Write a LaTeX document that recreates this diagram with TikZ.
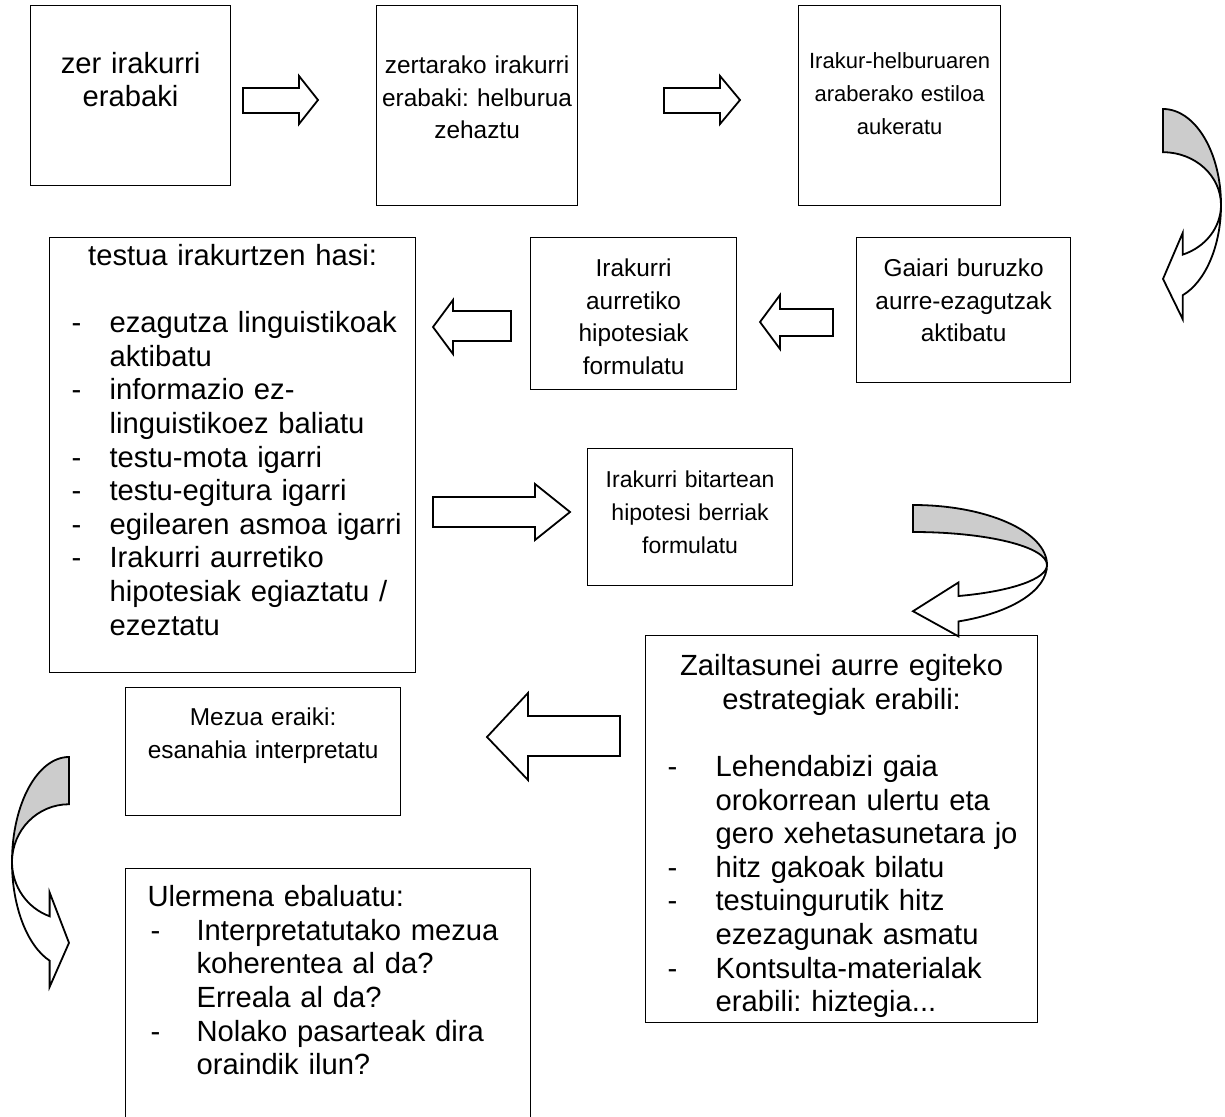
\documentclass[tikz,border=0pt]{standalone}
\usepackage{fontspec}
\setmainfont{Liberation Sans}
\frenchspacing

% one list line: dash offset, gap to text, text
\newcommand{\itemline}[3]{\makebox[\linewidth][l]{\hspace*{#1}\makebox[#2][l]{-}#3}}
\newcommand{\contline}[2]{\makebox[\linewidth][l]{\hspace*{#1}#2}}

% bent ribbon arrow: centre x, centre y, x radius, y radius
\newcommand{\bentarrow}[4]{%
  \begin{scope}[shift={(#1,#2)}, xscale=#3, yscale=#4]
    \draw[blk] (1,0) .. controls (1,0.421) and (0.736,0.797) .. (0.34,0.94)
      -- (0.34,1.19) -- (0,0.77) -- (0.34,0.29) -- (0.34,0.517)
      .. controls (0.736,0.438) and (1,0.232) .. (1,0) -- cycle;
    \draw[band] (0,-1) .. controls (0.5523,-1) and (1,-0.5523) .. (1,0)
      .. controls (1,-0.3038) and (0.5523,-0.55) .. (0,-0.55) -- cycle;
  \end{scope}}

\begin{document}
\begin{tikzpicture}[x=0.5pt, y=-0.5pt,
    box/.style={draw, line width=0.6pt, anchor=north west, inner xsep=0pt, inner ysep=0pt,
      align=center, font=\fontsize{12.2pt}{16.3pt}\selectfont},
    listbox/.style={box, font=\fontsize{14.6pt}{16.8pt}\selectfont},
    blk/.style={draw, line width=0.9pt, fill=white, line join=miter},
    band/.style={draw, line width=0.9pt, fill=black!20}
  ]
  \useasboundingbox (0,0) rectangle (1225,1117);
  \clip (0,0) rectangle (1225,1117);

  % top row
  \node[box, font=\fontsize{14.6pt}{16.3pt}\selectfont, text width=100pt, text height=34pt, text depth=56pt] (zer) at (30,5)
    {zer irakurri\\erabaki};
  \node[box, text width=100.5pt, text height=34pt, text depth=66pt] (zertarako) at (376,5)
    {zertarako irakurri\\erabaki: helburua\\zehaztu};
  \node[box, font=\fontsize{11pt}{16.5pt}\selectfont, text width=101pt, text height=31.5pt, text depth=68.5pt] (estiloa) at (798,5)
    {\mbox{Irakur-helburuaren}\\araberako estiloa\\aukeratu};

  \draw[blk] (243,88) -- (299,88) -- (299,76) -- (318,100) -- (299,124) -- (299,113) -- (243,113) -- cycle;
  \draw[blk] (664,88) -- (720,88) -- (720,76) -- (740,100) -- (720,124) -- (720,113) -- (664,113) -- cycle;

  \bentarrow{1163}{205}{58}{96}

  % second row
  \node[box, text width=107pt, text height=19.5pt, text depth=53pt] (gaiari) at (856,237)
    {Gaiari buruzko\\\mbox{aurre-ezagutzak}\\aktibatu};
  \node[box, text width=103pt, text height=19.5pt, text depth=56.5pt] (hipotesi) at (530,237)
    {Irakurri\\aurretiko\\hipotesiak\\formulatu};
  \node[listbox, text width=183pt, text height=14pt, text depth=203.5pt] (hasi) at (49,237)
    {testua irakurtzen hasi:\\[16.8pt]
     \itemline{11pt}{19pt}{ezagutza linguistikoak}\\
     \contline{30pt}{aktibatu}\\
     \itemline{11pt}{19pt}{informazio ez-}\\
     \contline{30pt}{linguistikoez baliatu}\\
     \itemline{11pt}{19pt}{testu-mota igarri}\\
     \itemline{11pt}{19pt}{testu-egitura igarri}\\
     \itemline{11pt}{19pt}{egilearen asmoa igarri}\\
     \itemline{11pt}{19pt}{Irakurri aurretiko}\\
     \contline{30pt}{hipotesiak egiaztatu /}\\
     \contline{30pt}{ezeztatu}};

  \draw[blk] (833,309) -- (780,309) -- (780,295) -- (760,322) -- (780,349) -- (780,336) -- (833,336) -- cycle;
  \draw[blk] (511,311) -- (453,311) -- (453,300) -- (433,327) -- (453,354) -- (453,341) -- (511,341) -- cycle;

  % middle
  \draw[blk] (433,497) -- (535,497) -- (535,484) -- (570,512) -- (535,540) -- (535,527) -- (433,527) -- cycle;
  \node[box, font=\fontsize{11.5pt}{16.5pt}\selectfont, text width=102.5pt, text height=19.5pt, text depth=49pt] (bitartean) at (587,448)
    {Irakurri bitartean\\hipotesi berriak\\formulatu};

  \bentarrow{913}{565}{134}{60}

  \node[listbox, text width=196pt, text height=20pt, text depth=173.5pt] (zailtasun) at (645,635)
    {Zailtasunei aurre egiteko\\estrategiak erabili:\\[16.8pt]
     \itemline{11pt}{24pt}{Lehendabizi gaia}\\
     \contline{35pt}{orokorrean ulertu eta}\\
     \contline{35pt}{gero xehetasunetara jo}\\
     \itemline{11pt}{24pt}{hitz gakoak bilatu}\\
     \itemline{11pt}{24pt}{testuingurutik hitz}\\
     \contline{35pt}{ezezagunak asmatu}\\
     \itemline{11pt}{24pt}{Kontsulta-materialak}\\
     \contline{35pt}{erabili: hiztegia...}};

  % bottom
  \draw[blk] (620,716) -- (528,716) -- (528,693) -- (487,737) -- (528,780) -- (528,756) -- (620,756) -- cycle;
  \node[box, text width=137.5pt, text height=19pt, text depth=45pt] (mezua) at (125,687)
    {Mezua eraiki:\\esanahia interpretatu};

  \bentarrow{69}{862}{-57}{105}

  \node[listbox, text width=202.5pt, text height=19pt, text depth=112pt] (ulermena) at (125,868)
    {\contline{11pt}{Ulermena ebaluatu:}\\
     \itemline{12.5pt}{23pt}{Interpretatutako mezua}\\
     \contline{35.5pt}{koherentea al da?}\\
     \contline{35.5pt}{Erreala al da?}\\
     \itemline{12.5pt}{23pt}{Nolako pasarteak dira}\\
     \contline{35.5pt}{oraindik ilun?}};
\end{tikzpicture}
\end{document}
